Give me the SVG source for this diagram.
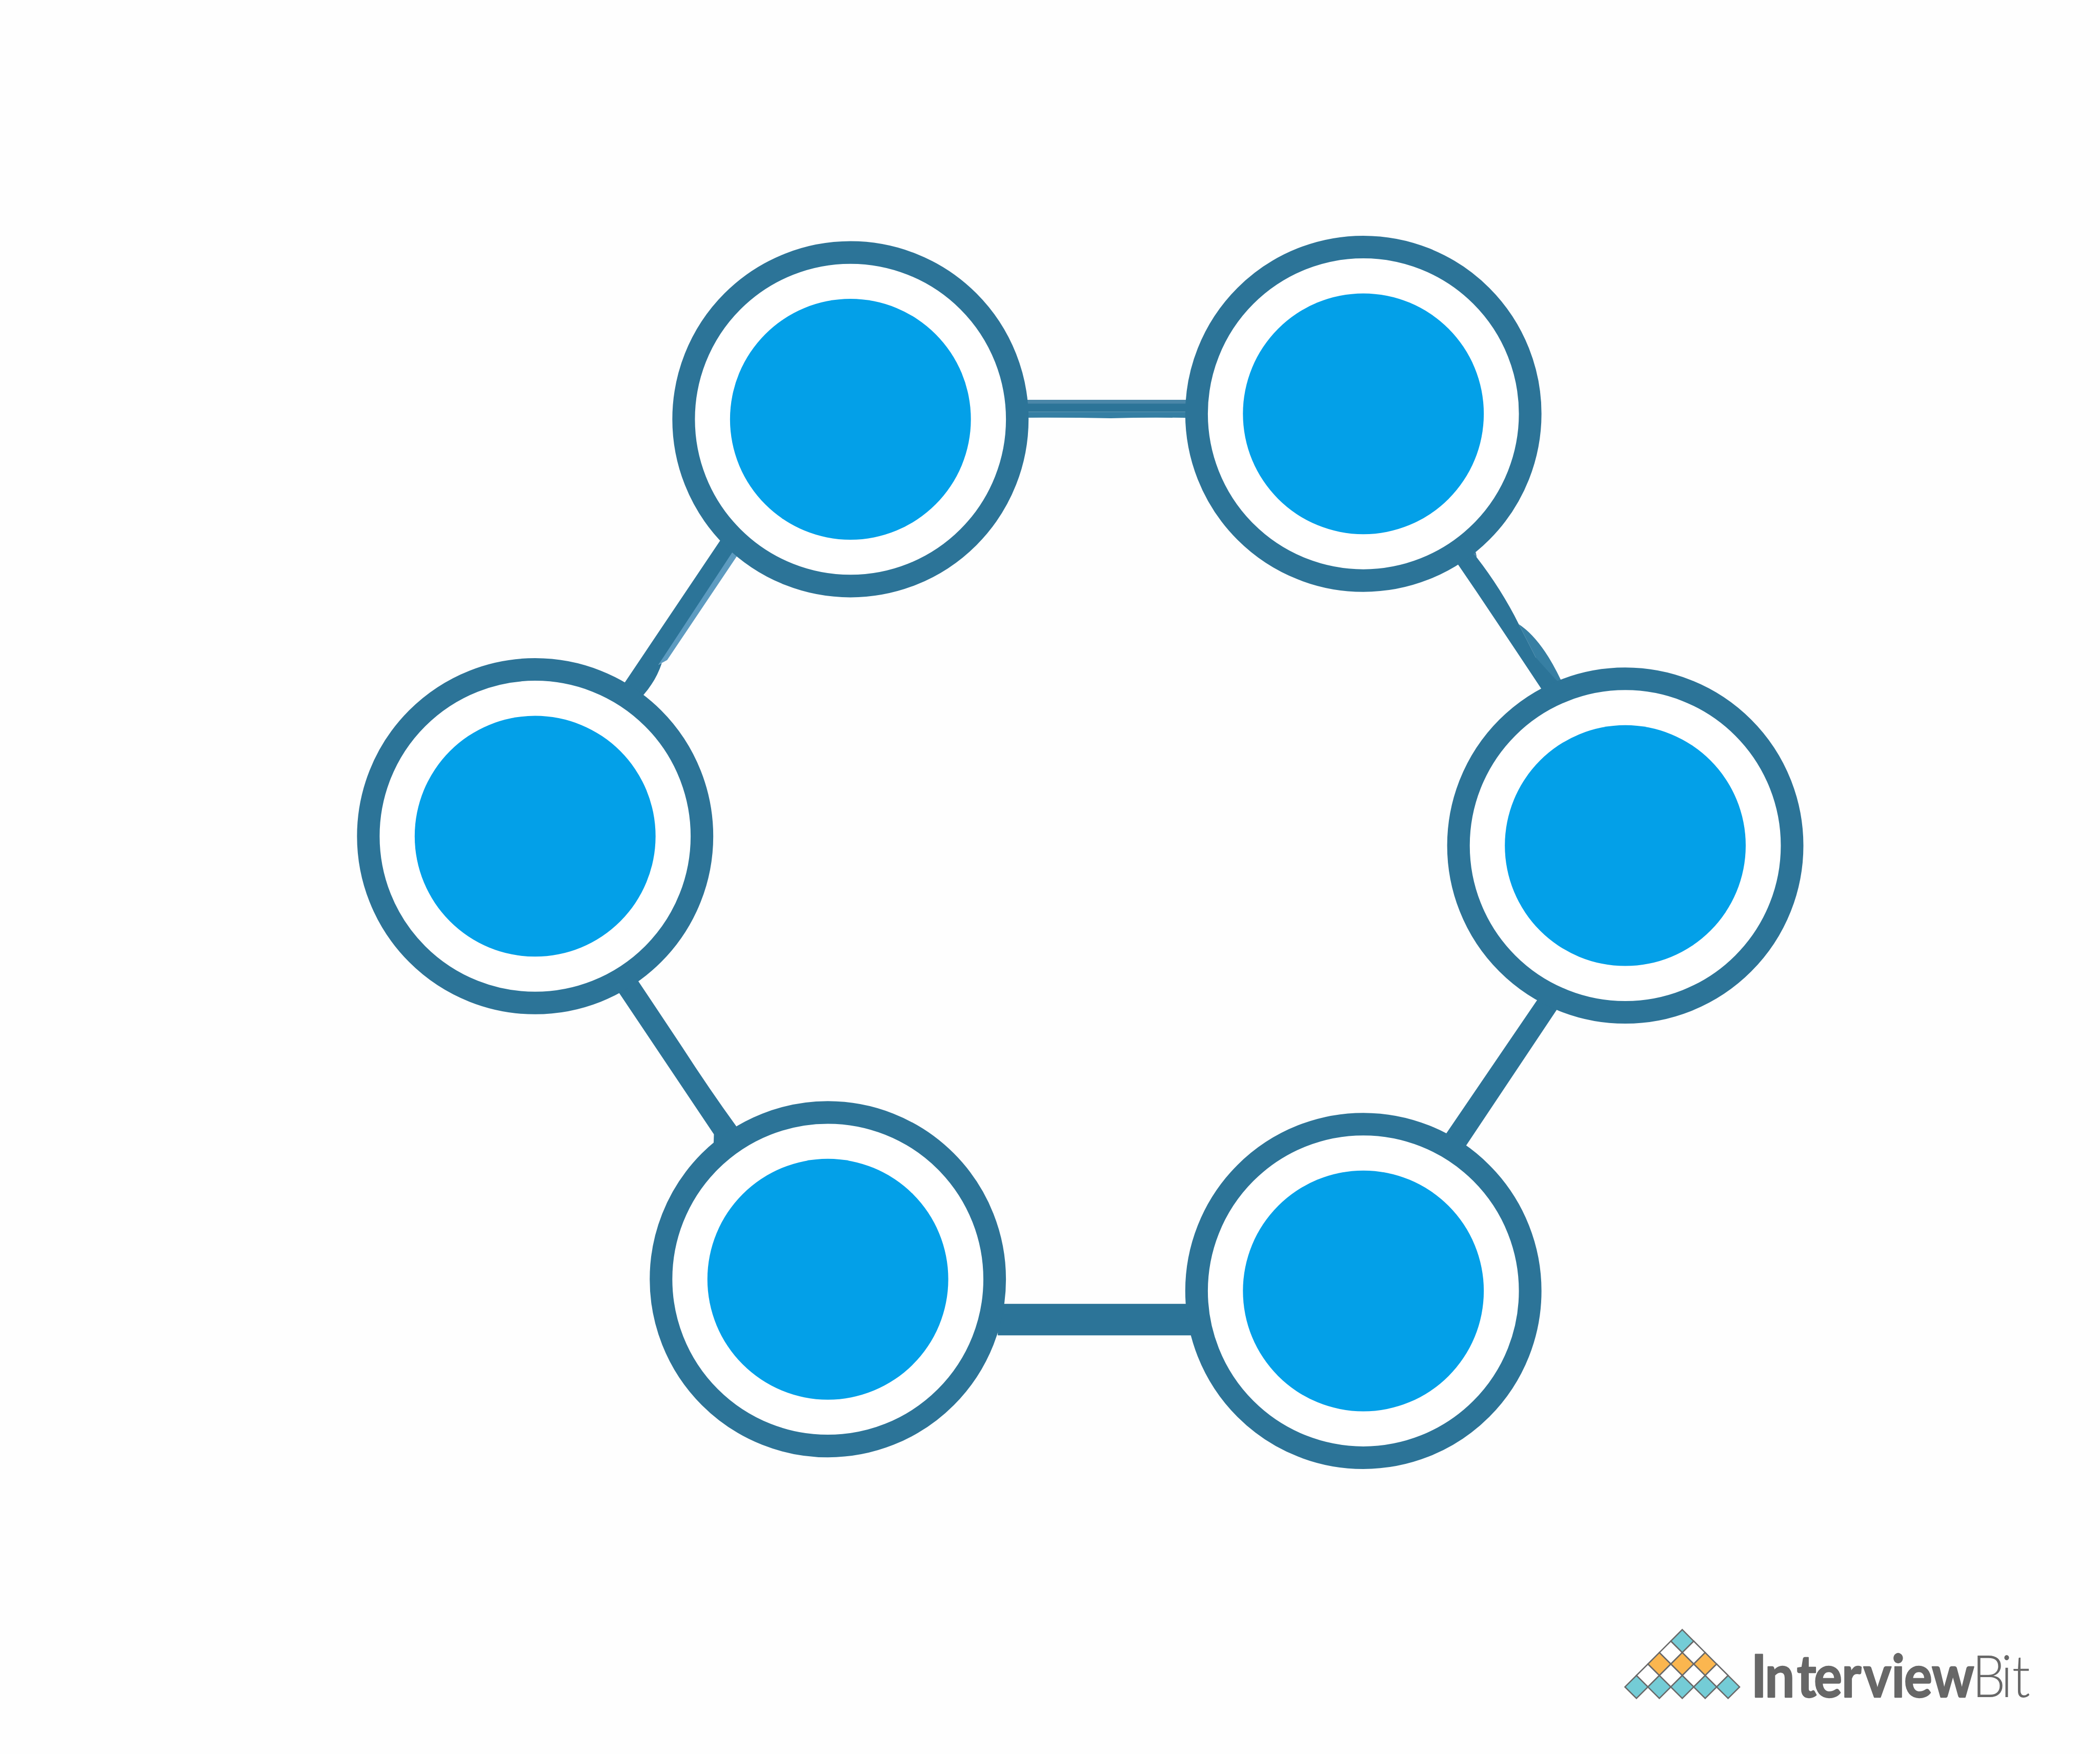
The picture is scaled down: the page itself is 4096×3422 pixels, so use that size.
<svg xmlns="http://www.w3.org/2000/svg" width="4096" height="3422" viewBox="0 0 4096 3422">
<style>
.ring{fill:#fff;stroke:#2c7498;stroke-width:58}
.core{fill:#03a0e8}
.c{fill:#2c7498}
.d{stroke:#696969;stroke-width:3.4;stroke-linejoin:miter}
.t{fill:#74ccd6}.o{fill:#fbb64f}.w{fill:#fff}
.lg{font-family:"Lato","Liberation Sans",sans-serif;fill:#676767;font-size:151px}
.b{font-weight:700;stroke:#676767;stroke-width:3;stroke-linejoin:round}
.l{font-weight:300}
</style>
<defs>
<polygon id="dm" points="0,-29.4 29.4,0 0,29.4 -29.4,0"/>
</defs>
<rect width="4096" height="3422" fill="#fefefe"/>
<g transform="scale(0.76021)">
<g id="connectors">
<path id="ab-top" fill="#4a86a8" d="M2620,1026H3060V1040H2620Z"/>
<path id="ab-bottom" fill="#357fa3" d="M2620,1057H3060V1073Q2960,1070 2850,1073.500Q2740,1071 2620,1072Z"/>
<path id="ab" class="c" d="M2620,1036H3060V1057H2620Z"/>
<path id="ac-light" fill="#5d9bc0" d="M1872,1405L1900,1432L1890.700,1427.300L1711.700,1694L1689.300,1706Z"/>
<path id="ac" class="c" d="M1592,1768L1860,1369L1892,1397L1879.300,1416.700L1689.300,1706L1698,1701.700Q1683,1747 1651,1783.300L1640,1800Z"/>
<path id="bd-light" fill="#377fa3" d="M3896.700,1601.700Q3955,1640 4005,1745.700L4015,1765L3985,1770L3940,1686.700Z"/>
<path id="bd" class="c" d="M3730,1432L3741.700,1450L3788.300,1518.300Q3870,1640 3955,1768.300L3970,1790L4010,1765L3996.700,1749.300Q3960,1710 3940,1686.700L3896.700,1601.700Q3851.700,1511.700 3788.300,1430L3786.700,1418.300L3760,1400Z"/>
<path id="bd-notch" fill="#4a86a8" d="M3780,1421.700L3786.700,1418.300L3788.300,1430Z"/>
<path id="ce" class="c" d="M1578,2532L1589,2549L1831.700,2911L1831,2934L1850,2960L1905,2910L1890,2891.700Q1820,2795 1750,2686.700L1638.300,2519L1625,2500Z"/>
<path id="df" class="c" d="M3955,2550L3943.300,2567.300L3711,2908.300L3700,2925L3750,2957L3762,2939.300L3993.300,2592.700L4005,2575Z"/>
<path id="ef" class="c" d="M2560,3346H3070V3427H2560Z"/>
</g>
<g id="node-a"><circle class="ring" cx="2182" cy="1076" r="428"/><circle class="core" cx="2182" cy="1076" r="309"/></g>
<g id="node-b"><circle class="ring" cx="3498" cy="1062" r="428"/><circle class="core" cx="3498" cy="1062" r="309"/></g>
<g id="node-c"><circle class="ring" cx="1373" cy="2146" r="428"/><circle class="core" cx="1373" cy="2146" r="309"/></g>
<g id="node-d"><circle class="ring" cx="4170" cy="2170" r="428"/><circle class="core" cx="4170" cy="2170" r="309"/></g>
<g id="node-e"><circle class="ring" cx="2124" cy="3283" r="428"/><circle class="core" cx="2124" cy="3283" r="309"/></g>
<g id="node-f"><circle class="ring" cx="3498" cy="3313" r="428"/><circle class="core" cx="3498" cy="3313" r="309"/></g>
<g id="logo">
<use href="#dm" class="d t" x="4316.200" y="4211.700"/>
<use href="#dm" class="d w" x="4286.800" y="4241.100"/><use href="#dm" class="d w" x="4345.600" y="4241.100"/>
<use href="#dm" class="d o" x="4257.400" y="4270.500"/><use href="#dm" class="d o" x="4316.200" y="4270.500"/><use href="#dm" class="d o" x="4375" y="4270.500"/>
<use href="#dm" class="d w" x="4228" y="4299.900"/><use href="#dm" class="d w" x="4286.800" y="4299.900"/><use href="#dm" class="d w" x="4345.600" y="4299.900"/><use href="#dm" class="d w" x="4404.400" y="4299.900"/>
<use href="#dm" class="d t" x="4198.600" y="4329.300"/><use href="#dm" class="d t" x="4257.400" y="4329.300"/><use href="#dm" class="d t" x="4316.200" y="4329.300"/><use href="#dm" class="d t" x="4375" y="4329.300"/><use href="#dm" class="d t" x="4433.800" y="4329.300"/>
<text class="lg" transform="translate(4500,4355.500) scale(0.9,1)" y="0"><tspan class="b" x="-8 31 122 171 250 312 392 428 507">Interview</tspan><tspan class="l" x="622 704 736">Bit</tspan></text>
</g>
</g>
</svg>
